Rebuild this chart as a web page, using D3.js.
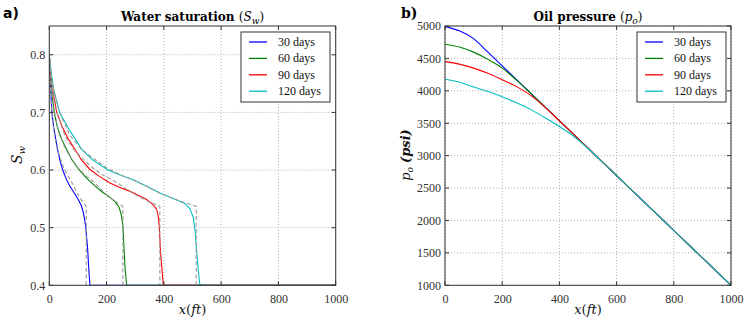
<!DOCTYPE html>
<html><head><meta charset="utf-8">
<script src="https://cdn.jsdelivr.net/npm/d3@7"></script>
<style>body{margin:0;background:#fff}</style></head>
<body><svg id="c" width="748" height="320"></svg>
<script>
// ---------- DATA ----------
const seriesNames = ["30 days", "60 days", "90 days", "120 days"];
const seriesColors = ["#0000ff", "#008000", "#ff0000", "#00bfbf"];
const xTicks = [0, 200, 400, 600, 800, 1000];
const swTicks = [0.4, 0.5, 0.6, 0.7, 0.8];
const pTicks = [1000, 1500, 2000, 2500, 3000, 3500, 4000, 4500, 5000];

// Water saturation, numerical solution [x (ft), Sw]
const swBlue = [[0,0.80],[2,0.77],[5,0.74],[9,0.70],[15,0.675],[22,0.655],[29,0.636],[38,0.615],[47,0.60],[58,0.586],[72,0.572],[86,0.561],[101,0.549],[112,0.538],[119,0.526],[124,0.512],[127,0.502],[130,0.485],[134,0.462],[138,0.427],[142,0.40],[1000,0.40]];
const swGreen = [[0,0.80],[3,0.77],[8,0.74],[17,0.70],[28,0.675],[42,0.655],[60,0.636],[80,0.617],[103,0.601],[130,0.586],[160,0.572],[185,0.562],[208,0.554],[228,0.546],[244,0.535],[251,0.523],[255,0.51],[258,0.497],[261,0.462],[265,0.427],[270,0.40],[1000,0.40]];
const swRed = [[0,0.80],[4,0.77],[11,0.74],[26,0.70],[45,0.675],[65,0.655],[89,0.636],[112,0.618],[142,0.601],[175,0.589],[210,0.578],[245,0.570],[282,0.563],[315,0.555],[340,0.549],[360,0.541],[375,0.532],[381,0.518],[384,0.502],[388,0.46],[393,0.43],[398,0.40],[1000,0.40]];
const swCyan = [[0,0.80],[5,0.775],[15,0.74],[36,0.70],[70,0.67],[113,0.636],[150,0.618],[205,0.60],[250,0.591],[293,0.583],[340,0.572],[386,0.560],[430,0.551],[470,0.543],[491,0.533],[503,0.517],[509,0.495],[514,0.462],[520,0.427],[526,0.40],[1000,0.40]];

// Water saturation, analytical (dashed) solution
const swExactS = [0.80,0.75,0.70,0.66,0.636,0.62,0.604,0.592,0.583,0.572,0.56,0.553,0.546,0.537,0.40];
const swExactBlueX = [0,3,9,18,28,39,50,62,74,85,97,106,115,129,129];
const swExactGreenX = [0,5,18,36,57,77,100,123,147,170,193,211,229,257,257];
const swExactRedX = [0,8,27,54,85,116,151,185,220,255,290,317,344,386,386];
const swExactCyanX = [0,10,36,72,113,154,200,246,292,339,385,421,457,513,513];

// Oil pressure (psi)
const pX = [0,50,100,150,200,250,300,350,400,450,500,550,600,650,700,750,800,850,900,950,1000];
const pBlue  = [4990,4925,4805,4596,4384,4173,3961,3750,3538,3327,3115,2904,2692,2481,2269,2058,1846,1635,1423,1212,1000];
const pGreen = [4719,4676,4597,4485,4350,4165,3961,3750,3538,3327,3115,2904,2692,2481,2269,2058,1846,1635,1423,1212,1000];
const pRed   = [4451,4412,4350,4270,4170,4065,3930,3745,3538,3327,3115,2904,2692,2481,2269,2058,1846,1635,1423,1212,1000];
const pCyan  = [4179,4135,4060,3990,3910,3815,3710,3585,3450,3300,3110,2904,2692,2481,2269,2058,1846,1635,1423,1212,1000];

// ---------- DRAW ----------
const svg = d3.select("#c");
const serif = "'Liberation Serif','Times New Roman',Tinos,'Nimbus Roman','DejaVu Serif',serif";
const dserif = "'DejaVu Serif', serif";

function panel(id, box, yDomain, yTicksArr) {
  const x = d3.scaleLinear().domain([0, 1000]).range([box.x0, box.x1]);
  const y = d3.scaleLinear().domain(yDomain).range([box.y1, box.y0]);
  const g = svg.append("g");
  svg.append("clipPath").attr("id", id).append("rect")
    .attr("x", box.x0).attr("y", box.y0).attr("width", box.x1 - box.x0).attr("height", box.y1 - box.y0);
  g.selectAll(".gx").data(xTicks).join("line")
    .attr("x1", d => x(d)).attr("x2", d => x(d)).attr("y1", box.y0).attr("y2", box.y1)
    .attr("stroke", "#b0b0b0").attr("stroke-width", 1).attr("stroke-dasharray", "1,2");
  g.selectAll(".gy").data(yTicksArr).join("line")
    .attr("y1", d => y(d)).attr("y2", d => y(d)).attr("x1", box.x0).attr("x2", box.x1)
    .attr("stroke", "#b0b0b0").attr("stroke-width", 1).attr("stroke-dasharray", "1,2");
  const plot = svg.append("g").attr("clip-path", `url(#${id})`);
  return {x, y, g, plot};
}

function frame(p, box, yTicksArr, yFmt) {
  const {x, y} = p;
  const g = svg.append("g");
  const xa = d3.axisBottom(x).tickValues(xTicks).tickSize(0).tickPadding(9).tickFormat(d3.format("d"));
  const xg = g.append("g").attr("transform", `translate(0,${box.y1})`).call(xa);
  xg.attr("font-family", serif).attr("font-size", 12);
  xg.select(".domain").remove();
  xg.selectAll("text").style("font-family", serif).style("font-size", "12px").attr("fill", "#333");
  const ya = d3.axisLeft(y).tickValues(yTicksArr).tickSize(0).tickPadding(4).tickFormat(yFmt);
  const yg = g.append("g").attr("transform", `translate(${box.x0},0)`).call(ya);
  yg.attr("font-family", serif).attr("font-size", 12);
  yg.select(".domain").remove();
  yg.selectAll("text").style("font-family", serif).style("font-size", "12px").attr("fill", "#333");
  const tk = 4, col = "#333";
  xTicks.forEach(v => {
    g.append("line").attr("x1", x(v)).attr("x2", x(v)).attr("y1", box.y1).attr("y2", box.y1 - tk).attr("stroke", col);
    g.append("line").attr("x1", x(v)).attr("x2", x(v)).attr("y1", box.y0).attr("y2", box.y0 + tk).attr("stroke", col);
  });
  yTicksArr.forEach(v => {
    g.append("line").attr("y1", y(v)).attr("y2", y(v)).attr("x1", box.x0).attr("x2", box.x0 + tk).attr("stroke", col);
    g.append("line").attr("y1", y(v)).attr("y2", y(v)).attr("x1", box.x1).attr("x2", box.x1 - tk).attr("stroke", col);
  });
  g.append("rect").attr("x", box.x0).attr("y", box.y0).attr("width", box.x1 - box.x0).attr("height", box.y1 - box.y0)
    .attr("fill", "none").attr("stroke", "#333").attr("stroke-width", 1);
}

function legend(bx, by) {
  const g = svg.append("g");
  g.append("rect").attr("x", bx).attr("y", by).attr("width", 89).attr("height", 70)
    .attr("fill", "#fff").attr("stroke", "#333").attr("stroke-width", 1);
  seriesNames.forEach((n, i) => {
    const yy = by + 10 + i * 16.4;
    g.append("line").attr("x1", bx + 8).attr("x2", bx + 26).attr("y1", yy).attr("y2", yy)
      .attr("stroke", seriesColors[i]).attr("stroke-width", 1.3);
    g.append("text").attr("x", bx + 37).attr("y", yy + 4).text(n)
      .style("font-family", serif).style("font-size", "12px").attr("fill", "#111");
  });
}

// ---- Left panel ----
const LB = {x0: 49.3, x1: 335.7, y0: 26, y1: 285.3};
const left = panel("clipL", LB, [0.4, 0.85], swTicks);
const lineSw = d3.line().x(d => left.x(d[0])).y(d => left.y(d[1]));
[swBlue, swGreen, swRed, swCyan].forEach((s, i) => {
  left.plot.append("path").attr("d", lineSw(s)).attr("fill", "none")
    .attr("stroke", seriesColors[i]).attr("stroke-width", 1.1);
});
[swExactBlueX, swExactGreenX, swExactRedX, swExactCyanX].forEach(xs => {
  const pts = xs.map((xv, k) => [xv, swExactS[k]]);
  left.plot.append("path").attr("d", lineSw(pts)).attr("fill", "none")
    .attr("stroke", "#999").attr("stroke-width", 1.1).attr("stroke-dasharray", "4,2.5");
});
frame(left, LB, swTicks, d3.format(".1f"));
legend(241, 32);

// ---- Right panel ----
const RB = {x0: 445, x1: 731, y0: 26, y1: 285.3};
const right = panel("clipR", RB, [1000, 5000], pTicks);
const lineP = d3.line().x((d, k) => right.x(pX[k])).y(d => right.y(d)).curve(d3.curveMonotoneX);
[pBlue, pGreen, pRed, pCyan].forEach((s, i) => {
  right.plot.append("path").attr("d", lineP(s)).attr("fill", "none")
    .attr("stroke", seriesColors[i]).attr("stroke-width", 1.1);
});
frame(right, RB, pTicks, d3.format("d"));
legend(637, 32);

// ---- Titles and labels ----
function title(cx, main, sym, sub) {
  const t = svg.append("text").attr("x", cx).attr("y", 21).attr("text-anchor", "middle")
    .attr("font-family", dserif).attr("font-size", 12).attr("fill", "#000");
  t.append("tspan").attr("font-weight", "bold").text(main + " ");
  t.append("tspan").text("(");
  t.append("tspan").attr("font-style", "italic").text(sym);
  t.append("tspan").attr("font-style", "italic").attr("font-size", 9).attr("dy", 3).text(sub);
  t.append("tspan").attr("dy", -3).text(")");
}
title(192.5, "Water saturation", "S", "w");
title(588, "Oil pressure", "p", "o");

svg.append("text").attr("x", 3).attr("y", 18).text("a)")
  .attr("font-family", "'DejaVu Sans', sans-serif").attr("font-weight", "bold").attr("font-size", 14);
svg.append("text").attr("x", 401).attr("y", 18).text("b)")
  .attr("font-family", dserif).attr("font-weight", "bold").attr("font-size", 14);

function xlabel(cx) {
  const t = svg.append("text").attr("x", cx).attr("y", 314).attr("text-anchor", "middle")
    .attr("font-family", dserif).attr("font-size", 13).attr("font-style", "italic").attr("fill", "#111");
  t.append("tspan").text("x");
  t.append("tspan").attr("font-style", "normal").text("(");
  t.append("tspan").text("ft");
  t.append("tspan").attr("font-style", "normal").text(")");
}
xlabel(192.5);
xlabel(588);

const sl = svg.append("text").attr("transform", "translate(22,155) rotate(-90)").attr("text-anchor", "middle")
  .attr("font-family", dserif).attr("font-size", 14).attr("fill", "#111");
sl.append("tspan").attr("font-style", "italic").text("S");
sl.append("tspan").attr("font-style", "italic").attr("font-size", 10).attr("dy", 3).text("w");

const pl = svg.append("text").attr("transform", "translate(410,155) rotate(-90)").attr("text-anchor", "middle")
  .attr("font-family", dserif).attr("font-size", 13).attr("fill", "#111");
pl.append("tspan").attr("font-style", "italic").text("p");
pl.append("tspan").attr("font-style", "italic").attr("font-size", 9).attr("dy", 3).text("o");
pl.append("tspan").attr("dy", -3).text(" ");
pl.append("tspan").attr("font-style", "italic").attr("font-weight", "bold").text("(psi)");
</script>
</body></html>
